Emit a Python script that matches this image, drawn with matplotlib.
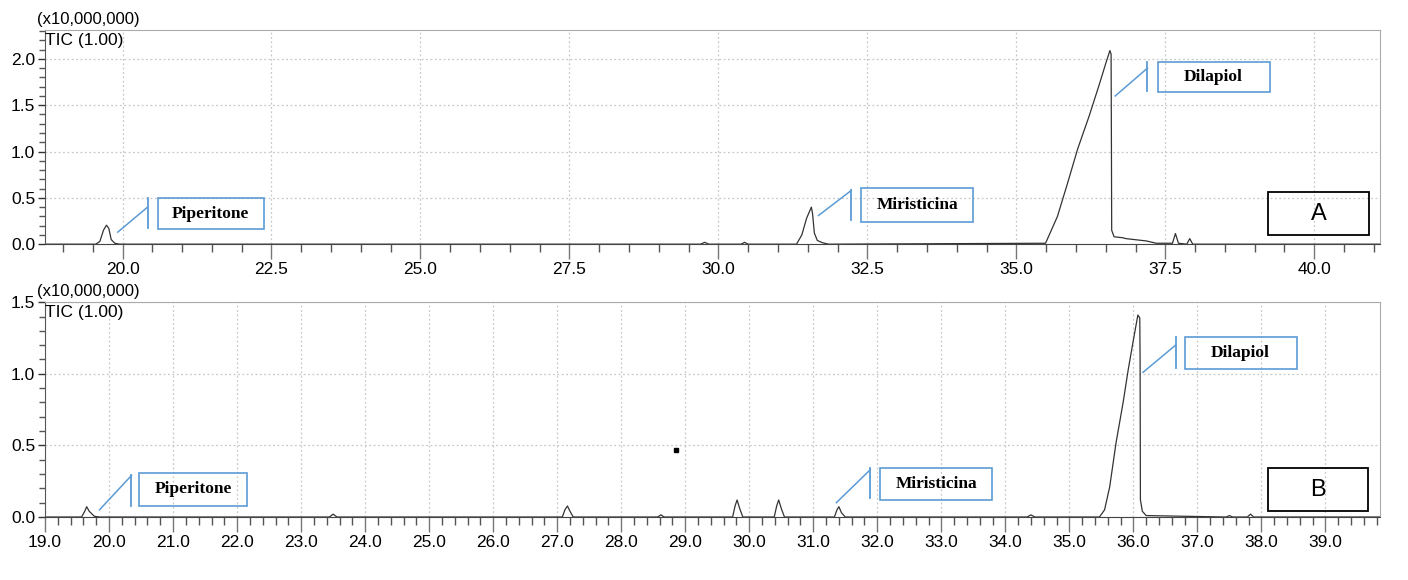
import matplotlib.pyplot as plt
from matplotlib.patches import Rectangle
from matplotlib.ticker import MultipleLocator, FormatStrFormatter

plt.rcParams["font.family"] = ["Liberation Sans", "DejaVu Sans"]

# Chromatogram A (retention time in min, intensity in x10,000,000)
time_a = [18.7, 19.55, 19.62, 19.68, 19.73, 19.77, 19.81, 19.87, 19.95,
          29.70, 29.77, 29.84, 30.38, 30.44, 30.50,
          31.31, 31.40, 31.48, 31.56, 31.58, 31.61, 31.66, 31.75, 31.85,
          35.49, 35.69, 35.86, 36.03, 36.22, 36.39, 36.50, 36.57, 36.59,
          36.595, 36.60, 36.64, 36.78, 36.84, 37.18, 37.35,
          37.62, 37.67, 37.72, 37.86, 37.91, 37.96, 38.05, 41.1]
signal_a = [0.0, 0.0, 0.03, 0.15, 0.205, 0.17, 0.05, 0.01, 0.0,
            0.0, 0.02, 0.0, 0.0, 0.02, 0.0,
            0.0, 0.10, 0.28, 0.40, 0.33, 0.12, 0.04, 0.015, 0.0,
            0.01, 0.30, 0.66, 1.03, 1.38, 1.72, 1.95, 2.09, 2.05,
            1.16, 0.15, 0.08, 0.07, 0.06, 0.035, 0.01,
            0.01, 0.115, 0.01, 0.0, 0.06, 0.0, 0.0, 0.0]

# Chromatogram B
time_b = [19.0, 19.57, 19.62, 19.65, 19.69, 19.77, 19.85,
          23.44, 23.50, 23.56, 27.08, 27.12, 27.16, 27.20, 27.25,
          28.57, 28.62, 28.67, 29.74, 29.78, 29.81, 29.85, 29.90,
          30.39, 30.43, 30.46, 30.50, 30.55, 31.33, 31.37, 31.40, 31.44, 31.50,
          34.34, 34.40, 34.46,
          35.47, 35.55, 35.63, 35.73, 35.84, 35.92, 35.99, 36.07, 36.10,
          36.105, 36.11, 36.14, 36.20, 37.45, 37.50, 37.55, 37.78, 37.83, 37.88, 39.85]
signal_b = [0.0, 0.0, 0.04, 0.072, 0.04, 0.005, 0.0,
            0.0, 0.02, 0.0, 0.0, 0.05, 0.077, 0.04, 0.0,
            0.0, 0.015, 0.0, 0.0, 0.08, 0.119, 0.06, 0.0,
            0.0, 0.08, 0.119, 0.06, 0.0, 0.0, 0.05, 0.072, 0.03, 0.0,
            0.0, 0.015, 0.0,
            0.0, 0.05, 0.21, 0.52, 0.80, 1.03, 1.21, 1.41, 1.39,
            1.10, 0.12, 0.04, 0.01, 0.0, 0.01, 0.0, 0.0, 0.02, 0.0, 0.0]

compounds = ["Piperitone", "Miristicina", "Dilapiol"]

# label layout in data coords: (leader start, leader end, bar y0, bar y1, box x0, x1, y0, y1)
labels_a = [
    ((19.92, 0.13), (20.42, 0.40), 0.17, 0.50, 20.59, 22.37, 0.16, 0.50),
    ((31.68, 0.31), (32.23, 0.58), 0.26, 0.58, 32.40, 34.28, 0.24, 0.61),
    ((36.66, 1.60), (37.20, 1.90), 1.65, 1.97, 37.37, 39.25, 1.64, 1.97),
]
labels_b = [
    ((19.85, 0.05), (20.35, 0.29), 0.08, 0.29, 20.47, 22.15, 0.08, 0.31),
    ((31.36, 0.10), (31.89, 0.33), 0.13, 0.34, 32.05, 33.79, 0.12, 0.34),
    ((36.15, 1.01), (36.66, 1.20), 1.04, 1.26, 36.80, 38.55, 1.03, 1.26),
]

BLUE = "#5b9bd5"
GRID = "#c8c8c8"

fig = plt.figure(figsize=(14.08, 5.8), dpi=100)
ax_a = fig.add_axes([0.032, 0.579, 0.948, 0.369])
ax_b = fig.add_axes([0.032, 0.1086, 0.948, 0.3704])


def style_axis(ax, xmin, xmax, ymax, xmajor, xminor):
    ax.set_xlim(xmin, xmax)
    ax.set_ylim(0, ymax)
    ax.xaxis.set_major_locator(MultipleLocator(xmajor))
    ax.xaxis.set_minor_locator(MultipleLocator(xminor))
    ax.yaxis.set_major_locator(MultipleLocator(0.5))
    ax.yaxis.set_minor_locator(MultipleLocator(0.1))
    ax.xaxis.set_major_formatter(FormatStrFormatter("%.1f"))
    ax.yaxis.set_major_formatter(FormatStrFormatter("%.1f"))
    ax.grid(True, which="major", color=GRID, linestyle=(0, (1.5, 2)), linewidth=0.9)
    ax.set_axisbelow(True)
    ax.tick_params(which="major", direction="out", length=11, width=1, color="#777777",
                   labelsize=12.5, pad=2)
    ax.tick_params(axis="y", which="major", length=5, color="#333333")
    ax.tick_params(which="minor", direction="out", length=6, width=1, color="#555555")
    ax.tick_params(axis="y", which="minor", length=4)
    for side in ["top", "right"]:
        ax.spines[side].set_color("#aaaaaa")
    ax.spines["left"].set_color("#555555")
    ax.spines["bottom"].set_color("#444444")
    ax.text(-0.006, 1.015, "(x10,000,000)", transform=ax.transAxes, fontsize=12,
            ha="left", va="bottom")
    ax.text(0.0, 0.985, "TIC (1.00)", transform=ax.transAxes, fontsize=12.5,
            ha="left", va="top")


def add_labels(ax, layout):
    for name, (p0, p1, by0, by1, bx0, bx1, boy0, boy1) in zip(compounds, layout):
        ax.plot([p0[0], p1[0]], [p0[1], p1[1]], color=BLUE, lw=1.1)
        ax.plot([p1[0], p1[0]], [by0, by1], color=BLUE, lw=1.3)
        ax.add_patch(Rectangle((bx0, boy0), bx1 - bx0, boy1 - boy0, fill=False,
                               edgecolor=BLUE, lw=1.2))
        ax.text((bx0 + bx1) / 2, (boy0 + boy1) / 2, name, ha="center", va="center",
                fontsize=12.5, fontweight="bold", family="Liberation Serif")


style_axis(ax_a, 18.7, 41.1, 2.31, 2.5, 0.5)
ax_a.plot(time_a, signal_a, color="#333333", lw=0.9)
add_labels(ax_a, labels_a)
ax_a.add_patch(Rectangle((39.23, 0.10), 1.68, 0.46, fill=False, edgecolor="black", lw=1.3))
ax_a.text(40.07, 0.33, "A", ha="center", va="center", fontsize=17)

style_axis(ax_b, 19.0, 39.85, 1.5, 1.0, 0.2)
ax_b.plot(time_b, signal_b, color="#333333", lw=0.9)
add_labels(ax_b, labels_b)
ax_b.add_patch(Rectangle((38.11, 0.04), 1.56, 0.30, fill=False, edgecolor="black", lw=1.3))
ax_b.text(38.89, 0.19, "B", ha="center", va="center", fontsize=17)
ax_b.plot([28.86], [0.47], marker="s", color="black", markersize=2.5)

fig.savefig("out.png", dpi=100)
